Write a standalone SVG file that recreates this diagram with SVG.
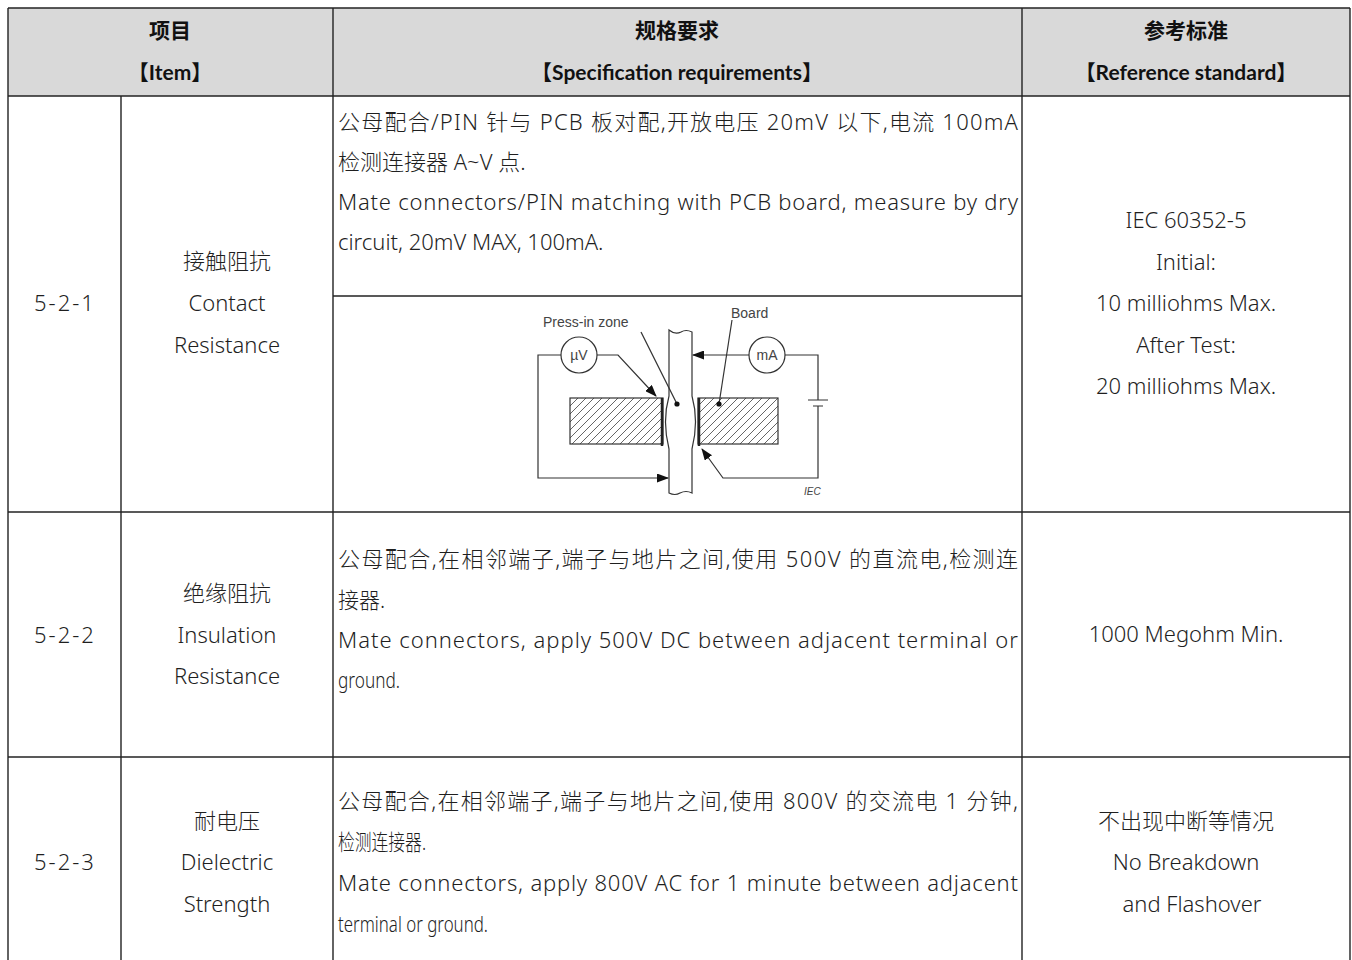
<svg xmlns="http://www.w3.org/2000/svg" width="1352" height="960" viewBox="0 0 1352 960">
<style>
.grid{stroke:#222;stroke-width:1.4;fill:none}
.h{font-family:"Lato","Noto Sans CJK SC",sans-serif;font-weight:bold;font-size:21px;fill:#111;text-anchor:middle}
.t{font-family:"Noto Sans","Noto Sans CJK SC",sans-serif;font-size:22px;font-weight:300;fill:#1f1f1f}
.c{text-anchor:middle}
.fig{stroke:#333;stroke-width:1.2;fill:none}
.fl{font-family:"Liberation Sans","Noto Sans",sans-serif;fill:#444}
</style>
<defs>
<pattern id="hatch" patternUnits="userSpaceOnUse" width="8" height="8">
<path d="M-2,2 L2,-2 M0,8 L8,0 M6,10 L10,6" stroke="#666" stroke-width="1"/>
</pattern>
<marker id="arr" markerUnits="userSpaceOnUse" markerWidth="12" markerHeight="9" refX="11" refY="4.5" orient="auto">
<path d="M0,0 L12,4.5 L0,9 z" fill="#111"/>
</marker>
</defs>
<rect width="1352" height="960" fill="#fff"/>
<rect x="8" y="8" width="1342" height="88" fill="#d9d9d9"/>

<g id="grid" class="grid">
<line x1="8" y1="8" x2="1350" y2="8"/>
<line x1="8" y1="96" x2="1350" y2="96"/>
<line x1="8" y1="512" x2="1350" y2="512"/>
<line x1="8" y1="757" x2="1350" y2="757"/>
<line x1="333" y1="296" x2="1022" y2="296"/>
<line x1="8" y1="8" x2="8" y2="960"/>
<line x1="121" y1="96" x2="121" y2="960"/>
<line x1="333" y1="8" x2="333" y2="960"/>
<line x1="1022" y1="8" x2="1022" y2="960"/>
<line x1="1350" y1="8" x2="1350" y2="960"/>
</g>

<g id="header">
<text class="h" x="170" y="38">项目</text>
<text class="h" x="170" y="80">【Item】</text>
<text class="h" x="677" y="38">规格要求</text>
<text class="h" x="677" y="80">【Specification requirements】</text>
<text class="h" x="1186" y="38">参考标准</text>
<text class="h" x="1186" y="80">【Reference standard】</text>
</g>

<g id="row-5-2-1">
<text class="t c" x="65" y="311" letter-spacing="2">5-2-1</text>
<text class="t c" x="227" y="269">接触阻抗</text>
<text class="t c" x="227" y="311">Contact</text>
<text class="t c" x="227" y="353">Resistance</text>
<text class="t" x="338" y="130" textLength="680" lengthAdjust="spacing">公母配合/PIN 针与 PCB 板对配,开放电压 20mV 以下,电流 100mA</text>
<text class="t" x="338" y="170">检测连接器 A~V 点.</text>
<text class="t" x="338" y="210" textLength="680" lengthAdjust="spacing">Mate connectors/PIN matching with PCB board, measure by dry</text>
<text class="t" x="338" y="250">circuit, 20mV MAX, 100mA.</text>
<text class="t c" x="1186" y="228">IEC 60352-5</text>
<text class="t c" x="1186" y="270">Initial:</text>
<text class="t c" x="1186" y="311">10 milliohms Max.</text>
<text class="t c" x="1186" y="353">After Test:</text>
<text class="t c" x="1186" y="394">20 milliohms Max.</text>
</g>

<g id="figure">
<rect x="570" y="398" width="93" height="46" fill="url(#hatch)" stroke="#333" stroke-width="1.2"/>
<rect x="698" y="398" width="80" height="46" fill="url(#hatch)" stroke="#333" stroke-width="1.2"/>
<line x1="662" y1="398" x2="662" y2="446" stroke="#222" stroke-width="2.5"/>
<line x1="699" y1="398" x2="699" y2="446" stroke="#222" stroke-width="2.5"/>
<path class="fig" d="M669,330 L669,396 Q662,421 669,449 L669,493 Q675,496 680,493 Q686,490 692,493 L692,449 Q699,421 692,396 L692,332 Q686,329 681,332 Q675,335 669,330 Z" style="fill:#fff"/>
<circle cx="579" cy="355" r="18" fill="#fff" stroke="#333" stroke-width="1.2"/>
<circle cx="767" cy="355" r="18" fill="#fff" stroke="#333" stroke-width="1.2"/>
<text class="fl" x="579" y="360" font-size="14" text-anchor="middle">µV</text>
<text class="fl" x="767" y="360" font-size="14" text-anchor="middle">mA</text>
<path class="fig" d="M561,355 L538,355 L538,478 L668,478" marker-end="url(#arr)"/>
<path class="fig" d="M597,355 L618,355 L656,396" marker-end="url(#arr)"/>
<path class="fig" d="M749,355 L693,355" marker-end="url(#arr)"/>
<path class="fig" d="M785,355 L818,355 L818,400 M808,400 L828,400 M813,406 L823,406 M818,406 L818,478 L723,478 L702,449" marker-end="url(#arr)"/>
<line class="fig" x1="641" y1="332" x2="677" y2="404"/>
<line class="fig" x1="732" y1="320" x2="719" y2="404"/>
<circle cx="677" cy="404" r="2.6" fill="#111"/>
<circle cx="719" cy="404" r="2.6" fill="#111"/>
<text class="fl" x="543" y="327" font-size="14">Press-in zone</text>
<text class="fl" x="731" y="318" font-size="14">Board</text>
<text class="fl" x="804" y="495" font-size="10" font-style="italic" fill="#777">IEC</text>
</g>

<g id="row-5-2-2">
<text class="t c" x="65" y="643" letter-spacing="2">5-2-2</text>
<text class="t c" x="227" y="601">绝缘阻抗</text>
<text class="t c" x="227" y="643">Insulation</text>
<text class="t c" x="227" y="684">Resistance</text>
<text class="t" x="338" y="567" textLength="680" lengthAdjust="spacing">公母配合,在相邻端子,端子与地片之间,使用 500V 的直流电,检测连</text>
<text class="t" x="338" y="608" textLength="47" lengthAdjust="spacingAndGlyphs">接器.</text>
<text class="t" x="338" y="648" textLength="680" lengthAdjust="spacing">Mate connectors, apply 500V DC between adjacent terminal or</text>
<text class="t" x="338" y="688" textLength="62" lengthAdjust="spacingAndGlyphs">ground.</text>
<text class="t c" x="1186" y="642">1000 Megohm Min.</text>
</g>

<g id="row-5-2-3">
<text class="t c" x="65" y="870" letter-spacing="2">5-2-3</text>
<text class="t c" x="227" y="829">耐电压</text>
<text class="t c" x="227" y="870">Dielectric</text>
<text class="t c" x="227" y="912">Strength</text>
<text class="t" x="338" y="809" textLength="680" lengthAdjust="spacing">公母配合,在相邻端子,端子与地片之间,使用 800V 的交流电 1 分钟,</text>
<text class="t" x="338" y="850" textLength="88" lengthAdjust="spacingAndGlyphs">检测连接器.</text>
<text class="t" x="338" y="891" textLength="680" lengthAdjust="spacing">Mate connectors, apply 800V AC for 1 minute between adjacent</text>
<text class="t" x="338" y="932" textLength="150" lengthAdjust="spacingAndGlyphs">terminal or ground.</text>
<text class="t c" x="1186" y="829">不出现中断等情况</text>
<text class="t c" x="1186" y="870">No Breakdown</text>
<text class="t c" x="1192" y="912">and Flashover</text>
</g>
</svg>
